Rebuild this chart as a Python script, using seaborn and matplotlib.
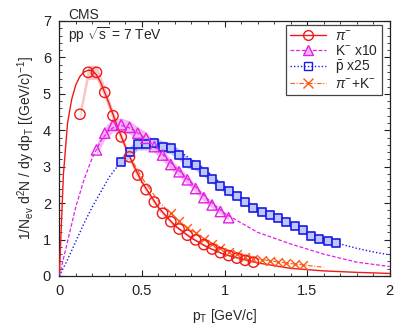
import numpy as np
import pandas as pd
import matplotlib
matplotlib.use('Agg')
import matplotlib.pyplot as plt
from matplotlib.lines import Line2D
import seaborn as sns

# ── data points ────────────────────────────────────────────
pi_x = [0.125, 0.175, 0.225, 0.275, 0.325, 0.375, 0.425, 0.475, 0.525, 0.575, 0.625,
        0.675, 0.725, 0.775, 0.825, 0.875, 0.925, 0.975, 1.025, 1.075, 1.125, 1.175]
pi_y = [4.44, 5.59, 5.59, 5.04, 4.40, 3.82, 3.27, 2.77, 2.37, 2.03, 1.72,
        1.49, 1.29, 1.12, 0.99, 0.86, 0.74, 0.64, 0.56, 0.49, 0.43, 0.38]

k_x = [0.225, 0.275, 0.325, 0.375, 0.425, 0.475, 0.525, 0.575, 0.625,
       0.675, 0.725, 0.775, 0.825, 0.875, 0.925, 0.975, 1.025]
k_y = [3.46, 3.92, 4.14, 4.15, 4.08, 3.92, 3.78, 3.55, 3.32,
       3.06, 2.86, 2.64, 2.40, 2.15, 1.95, 1.77, 1.60]

p_x = [0.375, 0.425, 0.475, 0.525, 0.575, 0.625, 0.675, 0.725, 0.775, 0.825,
       0.875, 0.925, 0.975, 1.025, 1.075, 1.125, 1.175, 1.225, 1.275, 1.325,
       1.375, 1.425, 1.475, 1.525, 1.575, 1.625, 1.675]
p_y = [3.14, 3.40, 3.62, 3.62, 3.65, 3.55, 3.51, 3.33, 3.10, 3.04,
       2.86, 2.67, 2.48, 2.32, 2.20, 2.03, 1.88, 1.77, 1.68, 1.58,
       1.48, 1.38, 1.25, 1.11, 1.01, 0.95, 0.90]

pik_x = [0.675, 0.725, 0.775, 0.825, 0.875, 0.925, 0.975, 1.025, 1.075,
         1.125, 1.175, 1.225, 1.275, 1.325, 1.375, 1.425, 1.475]
pik_y = [1.72, 1.50, 1.33, 1.17, 1.02, 0.88, 0.76, 0.66, 0.59,
         0.53, 0.48, 0.44, 0.41, 0.38, 0.36, 0.33, 0.30]

# ── fitted curves ──────────────────────────────────────────
pi_fx = [0, 0.025, 0.05, 0.075, 0.1, 0.125, 0.15, 0.175, 0.2, 0.225, 0.25, 0.3, 0.35,
         0.4, 0.45, 0.5, 0.6, 0.7, 0.8, 0.9, 1.0, 1.2, 1.4, 1.6, 1.8, 2.0]
pi_fy = [0, 2.8, 4.2, 4.85, 5.25, 5.48, 5.6, 5.65, 5.64, 5.52, 5.32, 4.75, 4.12,
         3.55, 3.03, 2.58, 1.88, 1.38, 1.04, 0.78, 0.59, 0.36, 0.21, 0.14, 0.10, 0.07]

k_fx = [0, 0.05, 0.1, 0.15, 0.2, 0.25, 0.3, 0.35, 0.4, 0.45, 0.5, 0.6, 0.7,
        0.8, 0.9, 1.0, 1.2, 1.4, 1.6, 1.8, 2.0]
k_fy = [0, 0.95, 1.9, 2.65, 3.25, 3.7, 4.0, 4.13, 4.12, 4.0, 3.85, 3.45, 3.0,
        2.55, 2.1, 1.72, 1.2, 0.88, 0.6, 0.38, 0.26]

p_fx = [0, 0.05, 0.1, 0.15, 0.2, 0.25, 0.3, 0.35, 0.4, 0.45, 0.5, 0.55, 0.6, 0.7,
        0.8, 0.9, 1.0, 1.1, 1.2, 1.3, 1.4, 1.5, 1.6, 1.7, 1.8, 1.9, 2.0]
p_fy = [0, 0.45, 0.95, 1.45, 1.9, 2.3, 2.7, 3.0, 3.27, 3.45, 3.58, 3.63, 3.63, 3.5,
        3.2, 2.85, 2.45, 2.1, 1.82, 1.58, 1.38, 1.18, 1.01, 0.88, 0.76, 0.66, 0.58]

pik_fx = [0.45, 0.5, 0.6, 0.7, 0.8, 0.9, 1.0, 1.1, 1.2, 1.3, 1.4, 1.5, 1.6]
pik_fy = [3.1, 2.7, 2.05, 1.6, 1.25, 0.97, 0.74, 0.59, 0.47, 0.40, 0.34, 0.29, 0.24]

# relative systematic band widths
sys_pi, sys_k, sys_p = 0.035, 0.045, 0.045

sns.set_theme(style='ticks')
plt.rcParams['font.family'] = ['Liberation Sans', 'DejaVu Sans']
plt.rcParams['mathtext.fontset'] = 'custom'
plt.rcParams['mathtext.rm'] = 'Liberation Sans'
plt.rcParams['mathtext.it'] = 'Liberation Sans:italic'
plt.rcParams['mathtext.sf'] = 'Liberation Sans'

c_pi, c_k, c_p, c_pik = '#f01818', '#e61ee6', '#1a1ae6', '#ff5a14'
b_pi, b_k, b_p = '#f8c6c6', '#f4b8f4', '#bcc8fa'

fig = plt.figure(figsize=(4.07, 3.26), dpi=100)
ax = fig.add_axes([0.1457, 0.1534, 0.8118, 0.7822])

# bands
for xs, ys, s, bc in [(pi_x, pi_y, sys_pi, b_pi), (k_x, k_y, sys_k, b_k), (p_x, p_y, sys_p, b_p)]:
    ys = np.array(ys)
    ax.fill_between(xs, ys * (1 - s), ys * (1 + s), color=bc, lw=0, zorder=1)

# curves
sns.lineplot(x=pi_fx, y=pi_fy, ax=ax, color=c_pi, lw=1.0, zorder=3)
sns.lineplot(x=k_fx, y=k_fy, ax=ax, color=c_k, lw=0.9, ls=(0, (3, 1.5)), zorder=3)
sns.lineplot(x=p_fx, y=p_fy, ax=ax, color=c_p, lw=1.0, ls=(0, (1, 1.5)), zorder=3)
sns.lineplot(x=pik_fx, y=pik_fy, ax=ax, color=c_pik, lw=0.8, ls=(0, (4, 1.5, 1, 1.5)), zorder=3)

# points
sns.scatterplot(x=p_x, y=p_y, ax=ax, marker='s', s=40, facecolor=b_p, edgecolor=c_p, linewidth=1.2, zorder=4)
sns.scatterplot(x=k_x, y=k_y, ax=ax, marker='^', s=55, facecolor='none', edgecolor=c_k, linewidth=1.0, zorder=4)
sns.scatterplot(x=pik_x, y=pik_y, ax=ax, marker='x', s=40, color=c_pik, linewidth=1.0, zorder=4)
sns.scatterplot(x=pi_x, y=pi_y, ax=ax, marker='o', s=55, facecolor='none', edgecolor=c_pi, linewidth=1.0, zorder=5)

ax.set_xlim(0, 2)
ax.set_ylim(0, 7)
ax.set_xticks([0, 0.5, 1, 1.5, 2])
ax.set_xticklabels(['0', '0.5', '1', '1.5', '2'])
ax.set_xticks(np.arange(0, 2.01, 0.1), minor=True)
ax.set_yticks(range(0, 8))
ax.set_yticks(np.arange(0, 7.01, 0.2), minor=True)
ax.tick_params(which='both', direction='in', top=True, right=True, labelsize=10.5, colors='#222222')
ax.tick_params(which='major', length=4, width=0.8, pad=6)
ax.tick_params(which='minor', length=2, width=0.6)
for sp in ax.spines.values():
    sp.set_color('#222222')
    sp.set_linewidth(0.9)

ax.set_xlabel(r'p$_{\rm T}$ [GeV/c]', fontsize=10, labelpad=6)
ax.set_ylabel(r'1/N$_{\rm ev}$ d$^{2}$N / dy dp$_{\rm T}$ [(GeV/c)$^{-1}$]', fontsize=10, labelpad=4)

fig.text(0.167, 0.955, 'CMS', fontsize=10, ha='left', va='center')
ax.text(0.027, 0.945, r'pp $\sqrt{\rm s}$ = 7 TeV', transform=ax.transAxes, fontsize=10,
        ha='left', va='center')

handles = [
    Line2D([], [], color=c_pi, lw=1.0, marker='o', ms=7, mfc='none', mec=c_pi),
    Line2D([], [], color=c_k, lw=0.9, ls=(0, (3, 1.5)), marker='^', ms=7, mfc=b_k, mec=c_k),
    Line2D([], [], color=c_p, lw=1.0, ls=(0, (1, 1.5)), marker='s', ms=6, mfc='none', mec=c_p),
    Line2D([], [], color=c_pik, lw=0.8, ls=(0, (4, 1.5, 1, 1.5)), marker='x', ms=7, mec=c_pik),
]
labels = [r'$\pi^{-}$', r'K$^{-}$ x10', r'$\bar{\rm p}$ x25', r'$\pi^{-}$+K$^{-}$']
leg = ax.legend(handles, labels, loc='upper right', bbox_to_anchor=(0.977, 0.984),
                borderaxespad=0, fontsize=10, frameon=True, fancybox=False,
                edgecolor='#444444', framealpha=1, handlelength=2.6, handletextpad=0.6,
                labelspacing=0.05, borderpad=0.3)
leg.get_frame().set_linewidth(0.9)

plt.savefig('out.png', dpi=100)
